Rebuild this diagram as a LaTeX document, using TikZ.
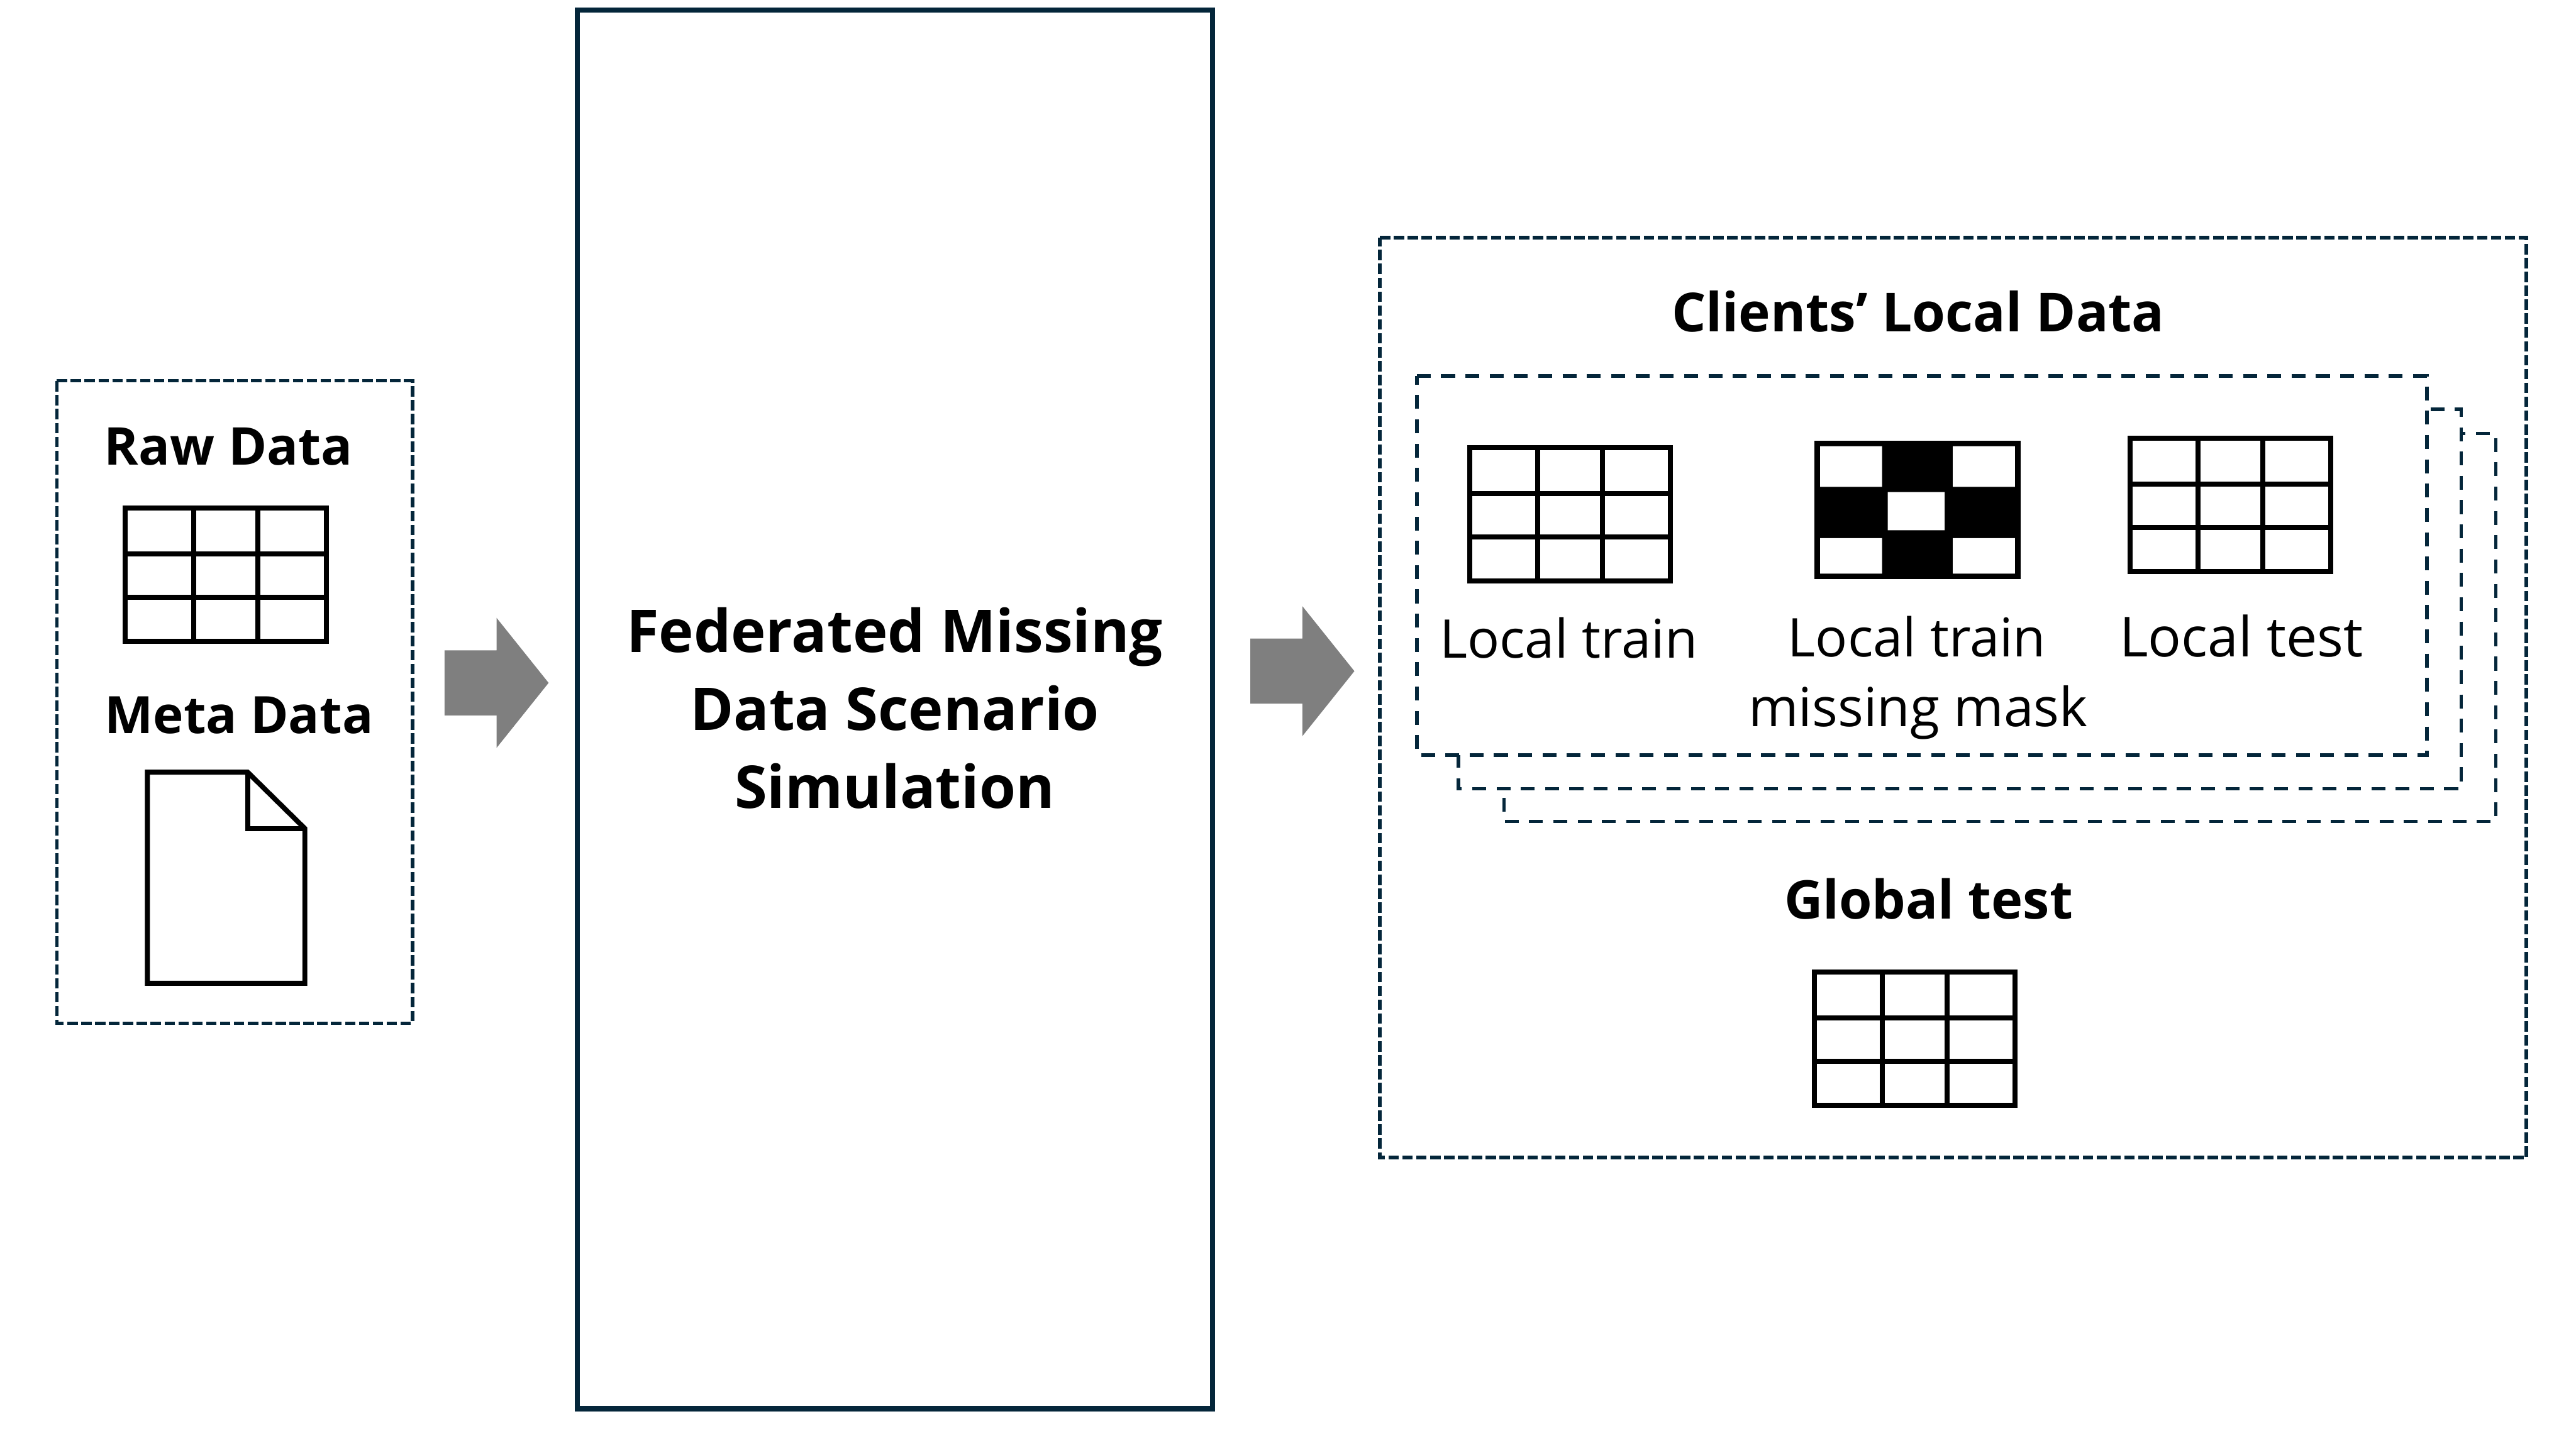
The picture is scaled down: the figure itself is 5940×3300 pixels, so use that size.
\documentclass[tikz,border=0pt]{standalone}
\usepackage{fontspec}
\setmainfont{Open Sans}
\definecolor{navy}{HTML}{04263A}
\definecolor{flowgray}{HTML}{7F7F7F}
\tikzset{
  x=0.01cm,y=-0.01cm,
  looseframe/.style={draw=navy,line width=0.08cm,dash pattern=on 0.24cm off 0.08cm},
  clientframe/.style={draw=navy,fill=white,line width=0.08cm,dash pattern=on 0.32cm off 0.24cm},
  iconline/.style={draw=black,line width=0.115cm,miter limit=10},
  flowarrow/.style={fill=flowgray,draw=none},
  headlabel/.style={font=\fontsize{34.5}{38}\selectfont\bfseries,anchor=base,inner sep=0pt},
  bodylabel/.style={font=\fontsize{35}{38}\selectfont,anchor=base,inner sep=0pt},
  titlelabel/.style={font=\fontsize{38.7}{44}\selectfont\bfseries,anchor=base,inner sep=0pt},
  pics/gridtable/.style={code={
    \draw[iconline] (0,0) rectangle (463,307);
    \draw[iconline] (157,0) -- (157,307) (306,0) -- (306,307) (0,106) -- (463,106) (0,206) -- (463,206);
  }},
  pics/flowshape/.style={code={
    \fill[flowarrow] (0,-75) -- (120,-75) -- (120,-150) -- (240,0) -- (120,150) -- (120,75) -- (0,75) -- cycle;
  }}
}
\begin{document}
\begin{tikzpicture}
\useasboundingbox (0,0) rectangle (5940,3300);
% left group
\draw[looseframe] (131,878) -- (951,878) -- (951,2360) -- (131,2360) -- cycle;
\node[headlabel,font=\fontsize{34.2}{38}\selectfont\bfseries] (raw) at (527,1072) {Raw Data};
\pic at (289,1172) {gridtable};
\node[headlabel,font=\fontsize{33.8}{38}\selectfont\bfseries] (meta) at (551,1691) {Meta Data};
\draw[iconline,line join=miter] (340,1781) -- (571,1781) -- (703,1911) -- (703,2268) -- (340,2268) -- cycle;
\draw[iconline,line join=miter] (571,1781) -- (571,1911) -- (703,1911);
% arrows
\pic at (1025,1575) {flowshape};
\pic at (2883,1548) {flowshape};
% centre
\draw[draw=navy,line width=0.12cm] (1331,23) rectangle (2796,3249);
\node[titlelabel] (t1) at (2063,1504) {Federated Missing};
\node[titlelabel] (t2) at (2063,1685) {Data Scenario};
\node[titlelabel] (t3) at (2063,1864) {Simulation};
% right group
\draw[looseframe] (3182,548) -- (5825,548) -- (5825,2670) -- (3182,2670) -- cycle;
\node[headlabel,font=\fontsize{35.3}{38}\selectfont\bfseries] (clients) at (4423,765) {Clients’ Local Data};
\draw[clientframe] (3468,1000) -- (5755,1000) -- (5755,1895) -- (3468,1895) -- cycle;
\draw[clientframe] (3363,944) -- (5675,944) -- (5675,1819) -- (3363,1819) -- cycle;
\draw[clientframe] (3267,867) -- (5596,867) -- (5596,1742) -- (3267,1742) -- cycle;
\pic at (3389,1033) {gridtable};
\node[bodylabel] (ltrain) at (3617,1518) {Local train};
% mask
\fill[black] (4184,1017) rectangle (4659,1335);
\fill[white] (4197,1029) rectangle (4340,1123) (4503,1029) rectangle (4646,1123)
  (4353,1135) rectangle (4484,1223)
  (4197,1241) rectangle (4340,1323) (4503,1241) rectangle (4646,1323);
\node[bodylabel] (mask1) at (4420,1514) {Local train};
\node[bodylabel,font=\fontsize{35.3}{38}\selectfont] (mask2) at (4423,1675) {missing mask};
\pic at (4912,1011) {gridtable};
\node[bodylabel,font=\fontsize{36.2}{38}\selectfont] (ltest) at (5168,1514) {Local test};
\node[headlabel,font=\fontsize{35}{38}\selectfont\bfseries] (global) at (4447,2120) {Global test};
\pic at (4184,2242) {gridtable};
\end{tikzpicture}
\end{document}
